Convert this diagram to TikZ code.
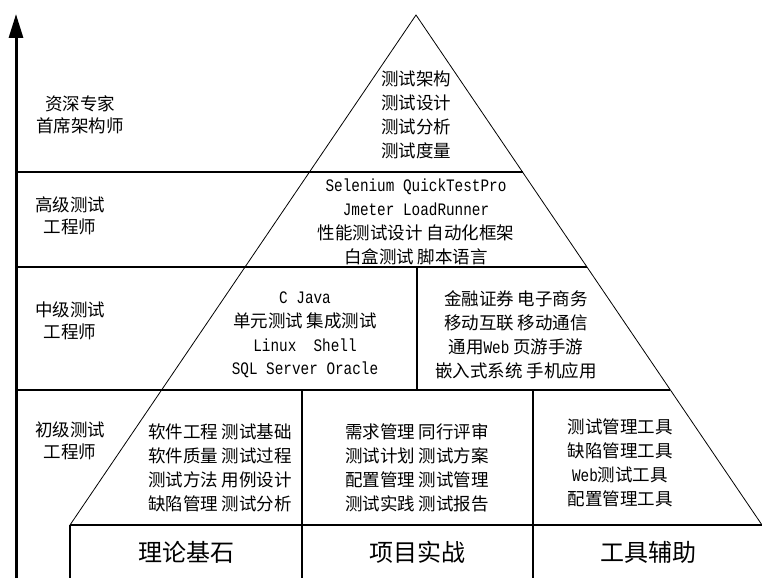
\documentclass[tikz,border=0pt]{standalone}
\usepackage{fontspec}
\setmainfont{Noto Sans CJK SC}
\newfontfamily\mono[FakeStretch=0.82]{Liberation Mono}
\usetikzlibrary{arrows.meta}
\begin{document}
\begin{tikzpicture}[x=1pt,y=-1pt,
  sepline/.style={line width=1.8pt},
  edgeline/.style={line width=0.8pt},
  divline/.style={line width=1.2pt},
  axisline/.style={line width=3pt,-{Triangle[length=24pt,width=14pt]}},
  txt/.style={font=\fontsize{17.5}{23.8}\selectfont,align=center,inner sep=0pt},
  lbl/.style={font=\fontsize{17.5}{22}\selectfont,align=center,inner sep=0pt},
  big/.style={font=\fontsize{24}{28}\selectfont,inner sep=0pt}]
\useasboundingbox (0,0) rectangle (762,578);
\fill[white] (0,0) rectangle (762,578);
% geometry
\coordinate (apex) at (416,15);
\coordinate (bl) at (70,525);
\coordinate (br) at (762,525);
\coordinate (ax0) at (16,578);
\coordinate (ax1) at (16,14);
\coordinate (a1) at (16,172);   \coordinate (r1) at (522.5,172);
\coordinate (a2) at (16,267);   \coordinate (r2) at (587,267);
\coordinate (a3) at (16,390);   \coordinate (r3) at (670.4,390);
\coordinate (m2) at (417,267);  \coordinate (m3) at (417,390);
\coordinate (d1t) at (302,390); \coordinate (d1b) at (302,578);
\coordinate (d2t) at (533,390); \coordinate (d2b) at (533,578);
\coordinate (blb) at (70,578);
% pyramid
\draw[edgeline] (bl) -- (apex) -- (br);
\draw[sepline] (a1) -- (r1);
\draw[sepline] (a2) -- (r2);
\draw[sepline] (a3) -- (r3);
\draw[sepline] (bl) -- (br);
\draw[divline] (m2) -- (m3);
\draw[divline] (d1t) -- (d1b);
\draw[divline] (d2t) -- (d2b);
\draw[divline] (bl) -- (blb);
\draw[axisline] (ax0) -- (ax1);
% left labels
\node[lbl] (l1) at (80,115) {资深专家\\首席架构师};
\node[lbl] (l2) at (70,216) {高级测试\\工程师};
\node[lbl] (l3) at (70,321) {中级测试\\工程师};
\node[lbl] (l4) at (70,441) {初级测试\\工程师};
% tier texts
\node[txt] (t1) at (416,115) {测试架构\\测试设计\\测试分析\\测试度量};
\node[txt] (t2) at (416,222) {{\mono Selenium QuickTestPro}\\{\mono Jmeter LoadRunner}\\性能测试设计 自动化框架\\白盒测试 脚本语言};
\node[txt] (t3a) at (305,335) {{\mono C Java}\\单元测试 集成测试\\{\mono Linux\ \ Shell}\\{\mono SQL Server Oracle}};
\node[txt] (t3b) at (516,335) {金融证券 电子商务\\移动互联 移动通信\\通用{\mono Web} 页游手游\\嵌入式系统 手机应用};
\node[txt] (t4a) at (220,468) {软件工程 测试基础\\软件质量 测试过程\\测试方法 用例设计\\缺陷管理 测试分析};
\node[txt] (t4b) at (417,468) {需求管理 同行评审\\测试计划 测试方案\\配置管理 测试管理\\测试实践 测试报告};
\node[txt] (t4c) at (620,463) {测试管理工具\\缺陷管理工具\\{\mono Web}测试工具\\配置管理工具};
% bottom
\node[big] (b1) at (186,552) {理论基石};
\node[big] (b2) at (417,552) {项目实战};
\node[big] (b3) at (648,552) {工具辅助};
\end{tikzpicture}
\end{document}
